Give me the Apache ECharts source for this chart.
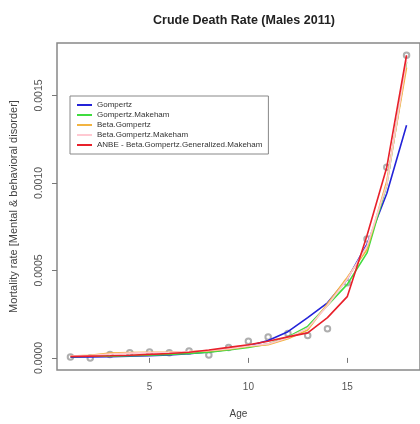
<!DOCTYPE html>
<html>
<head>
<meta charset="utf-8">
<script src="https://cdn.jsdelivr.net/npm/echarts@6/dist/echarts.min.js"></script>
<style>
  html, body { margin: 0; padding: 0; background: #fff; }
  #chart { width: 420px; height: 424px; }
</style>
</head>
<body>
<div id="chart"></div>
<script>
// 年龄组
let ages = [1, 2, 3, 4, 5, 6, 7, 8, 9, 10, 11, 12, 13, 14, 15, 16, 17, 18];
// 观测值 (圆圈)
let observed = [0.000005, 0.000000, 0.000020, 0.000029, 0.000034, 0.000029, 0.000040, 0.000017, 0.000060,
    0.000095, 0.000120, 0.000140, 0.000128, 0.000166, 0.000430, 0.000680, 0.001090, 0.001730];
// 拟合曲线
let gompertz = [0.000004, 0.000005, 0.000007, 0.000009, 0.000012, 0.000017, 0.000024, 0.000034, 0.000048,
    0.000068, 0.000100, 0.000150, 0.000230, 0.000315, 0.000450, 0.000650, 0.000940, 0.001330];
let gompertzMakeham = [0.000008, 0.000009, 0.000010, 0.000012, 0.000015, 0.000019, 0.000025, 0.000033, 0.000045,
    0.000060, 0.000080, 0.000120, 0.000180, 0.000300, 0.000420, 0.000600, 0.000990, 0.001690];
let betaGompertz = [0.000010, 0.000015, 0.000028, 0.000030, 0.000032, 0.000033, 0.000036, 0.000040, 0.000050,
    0.000065, 0.000075, 0.000110, 0.000160, 0.000310, 0.000460, 0.000620, 0.001010, 0.001660];
let betaGompertzMakeham = [0.000010, 0.000013, 0.000022, 0.000027, 0.000030, 0.000032, 0.000036, 0.000042, 0.000052,
    0.000068, 0.000080, 0.000115, 0.000170, 0.000300, 0.000450, 0.000640, 0.000990, 0.001700];
let anbe = [0.000008, 0.000010, 0.000012, 0.000015, 0.000020, 0.000025, 0.000032, 0.000045, 0.000060,
    0.000075, 0.000095, 0.000120, 0.000143, 0.000230, 0.000350, 0.000700, 0.001090, 0.001730];
// 刻度
let xTicks = [5, 10, 15];
let yTicks = [0, 0.0005, 0.0010, 0.0015];

let names = ['Gompertz', 'Gompertz.Makeham', 'Beta.Gompertz', 'Beta.Gompertz.Makeham',
    'ANBE - Beta.Gompertz.Generalized.Makeham'];
let colors = ['#2323d8', '#3fdc3f', '#f2b441', '#ffc9d2', '#e8202a'];
let fits = [gompertz, gompertzMakeham, betaGompertz, betaGompertzMakeham, anbe];

let pair = (arr) => ages.map((a, i) => [a, arr[i]]);

let mychart = echarts.init(document.getElementById('chart'));

// 观测点先画, 曲线盖在上面
let series = [{
    name: 'observed',
    type: 'scatter',
    data: pair(observed),
    symbol: 'emptyCircle',
    symbolSize: 5.5,
    itemStyle: { color: '#9a9a9a', borderWidth: 1 },
    z: 2
}];
fits.forEach((arr, i) => {
    series.push({
        name: names[i],
        type: 'line',
        data: pair(arr),
        symbol: 'none',
        lineStyle: { color: colors[i], width: 1.6 },
        itemStyle: { color: colors[i] },
        z: 3 + i
    });
});

let option = {
    animation: false,
    textStyle: { fontFamily: 'Liberation Sans' },
    title: {
        text: 'Crude Death Rate (Males 2011)',
        left: 239,
        textAlign: 'center',
        top: 9,
        textStyle: { fontSize: 12.5, fontWeight: 'bold', color: '#222', fontFamily: 'Liberation Sans' }
    },
    legend: {
        data: names,
        orient: 'vertical',
        left: 70,
        top: 96,
        padding: [5, 6, 5, 7],
        itemGap: 2,
        itemWidth: 15,
        itemHeight: 2,
        icon: 'rect',
        borderColor: '#888',
        borderWidth: 1,
        selectedMode: false,
        textStyle: { fontSize: 8, color: '#333' }
    },
    grid: {
        left: 56,
        top: 43,
        width: 367,
        height: 327,
        show: true,
        borderColor: '#888',
        borderWidth: 1.5
    },
    xAxis: {
        type: 'value',
        min: 0.32,
        max: 18.68,
        name: 'Age',
        nameLocation: 'middle',
        nameGap: 39,
        nameTextStyle: { fontSize: 10, color: '#444' },
        axisLine: { show: false },
        splitLine: { show: false },
        axisTick: { show: true, length: 5, customValues: xTicks, lineStyle: { color: '#777' } },
        axisLabel: { customValues: xTicks, fontSize: 10, color: '#555', margin: 12 }
    },
    yAxis: {
        type: 'value',
        min: -0.0000692,
        max: 0.0018,
        name: 'Mortality rate [Mental & behavioral disorder]',
        nameLocation: 'middle',
        nameRotate: 90,
        nameGap: 38,
        nameTextStyle: { fontSize: 11, color: '#444' },
        axisLine: { show: false },
        splitLine: { show: false },
        axisTick: { show: true, length: 5, customValues: yTicks, lineStyle: { color: '#777' } },
        axisLabel: {
            customValues: yTicks,
            rotate: 90,
            fontSize: 10.5,
            color: '#555',
            margin: 12,
            formatter: (v) => v.toFixed(4)
        }
    },
    series: series
};

mychart.setOption(option);
</script>
</body>
</html>
